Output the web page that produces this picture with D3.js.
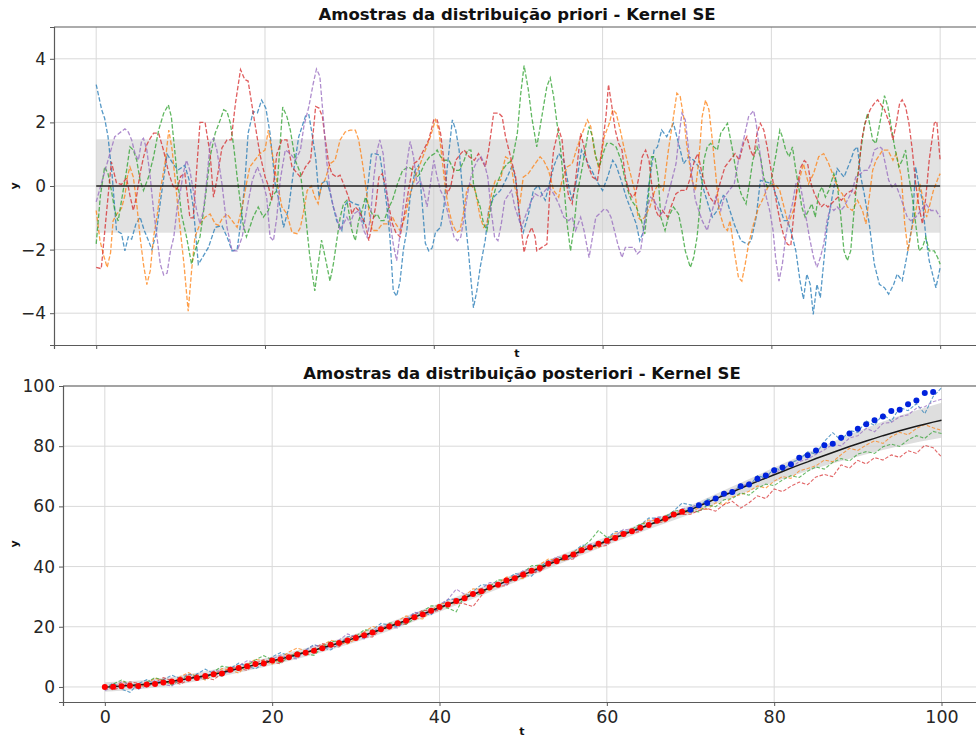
<!DOCTYPE html>
<html>
<head>
<meta charset="utf-8">
<script src="https://cdn.jsdelivr.net/npm/d3@7"></script>
<style>
  html, body { margin: 0; padding: 0; background: #fff; }
  svg { display: block; font-family: "DejaVu Sans", sans-serif; }
</style>
</head>
<body>
<svg id="chart" width="976" height="740"></svg>
<script>
// ---------- Prior samples (t, y) : squared-exponential kernel, zero mean ----------
const priorBlue = [[0,3.19],[0.65,2.4],[1,2.13],[1.4,1.55],[1.9,0.3],[2.4,-1.4],[3,-1.5],[3.4,-2.04],[3.8,-1.6],[4.2,-1.67],[4.7,-1.2],[5.2,-0.98],[5.7,-1.4],[6.2,-1.72],[6.6,-2.0],[7.1,-1.5],[7.6,-0.5],[8.4,1.0],[9.1,0.7],[9.7,0.5],[10.5,0.65],[11.0,0.2],[11.5,-0.66],[12.1,-2.46],[12.7,-2.2],[13.3,-1.93],[14.1,-1.3],[14.9,-1.25],[15.5,-1.6],[16.1,-2.04],[16.7,-2.0],[17.2,-1.0],[17.6,0.07],[18,1.66],[18.6,2.34],[19.1,2.3],[19.6,2.7],[20.1,2.45],[20.6,1.66],[21.2,0.07],[21.6,-0.4],[22.2,-1.3],[22.8,-0.7],[23.4,0.5],[24,1.55],[24.8,2.2],[25.2,2.24],[25.6,1.6],[26,0.9],[26.4,-0.35],[26.8,0.1],[27.3,0.18],[27.7,-0.2],[28.1,-0.66],[28.5,-1.1],[29.1,-1.4],[29.5,-0.6],[29.9,-0.45],[30.5,-0.55],[31.1,-0.6],[31.7,-1.2],[32.1,-0.2],[32.6,1.0],[33,1.02],[33.6,0.97],[34,0.3],[34.4,-0.55],[34.8,-1.6],[35.2,-3.3],[35.6,-3.46],[36,-3.0],[36.4,-2.0],[36.8,-1.4],[37.2,-0.35],[37.8,0.5],[38.2,0.65],[38.6,-0.45],[39,-1.8],[39.4,-2.04],[39.8,-1.95],[40.2,-1.46],[40.8,-1.3],[41.2,-0.66],[41.6,0.6],[42.2,2.08],[42.6,1.76],[43,1.13],[43.5,-0.45],[44.1,-2.04],[44.7,-3.83],[45.1,-3.3],[45.5,-2.56],[46.1,-1.7],[46.5,-0.77],[47.1,-0.35],[47.9,-0.14],[48.7,0.28],[49.3,0.65],[49.7,0.2],[50.2,-1.1],[50.6,-1.46],[51.2,-0.9],[51.8,-0.14],[52.4,0.02],[52.8,-0.25],[53.2,-0.45],[53.7,0.07],[54.2,0.6],[54.8,1.02],[55.4,0.8],[56,-0.03],[56.4,-0.45],[57,0.28],[57.5,1.13],[58.1,0.8],[58.9,0.39],[59.5,0.07],[60,-0.14],[60.6,0.28],[61.2,0.81],[61.6,0.65],[62.2,0.18],[62.8,-0.35],[63.4,-0.77],[64,-1.2],[64.4,-1.72],[64.8,-1.46],[65.2,-0.66],[65.5,0.07],[66.1,1.13],[66.5,1.23],[67,1.76],[67.6,1.55],[68,1.76],[68.4,1.97],[68.8,1.55],[69.2,1.13],[69.6,0.7],[70.2,0.92],[70.8,0.81],[71.4,0.6],[72,-0.14],[72.6,-0.66],[73,-0.98],[73.6,-0.77],[74.3,-0.3],[74.6,-0.35],[75,-0.7],[75.6,-1.2],[76.4,-1.72],[77.2,-1.83],[77.6,-1.72],[78.2,-0.98],[78.7,0.18],[79.3,0.13],[80.1,0.07],[80.9,-0.56],[81.5,-1.09],[81.9,-1.09],[82.3,-1.4],[82.9,-2.04],[83.4,-2.99],[83.8,-3.56],[84.2,-2.77],[84.6,-3.09],[84.96,-4.04],[85.4,-3.09],[85.8,-3.51],[86.6,-1.3],[87.2,-0.35],[87.8,0.55],[88.6,0.28],[89.4,0.81],[89.8,1.13],[90.2,1.23],[90.6,0.28],[91,-0.24],[91.6,-1.19],[92.2,-2.46],[92.8,-3.09],[93.4,-3.2],[93.9,-3.4],[94.5,-3.09],[94.9,-2.77],[95.5,-2.98],[96.1,-2.14],[96.7,-1.19],[97.1,0.6],[97.5,-0.03],[97.9,-0.45],[98.3,-1.6],[98.7,-2.35],[99.5,-3.2],[100,-2.56]];

const priorOrange = [[0,-0.77],[0.45,-1.72],[0.9,-2.2],[1.3,-2.56],[1.7,-2.1],[2,-1.1],[2.4,-0.9],[3,-0.7],[3.4,-0.3],[3.7,0.3],[4,0.6],[4.4,0.28],[4.8,-0.56],[5.2,-1.6],[5.6,-2.46],[6,-3.1],[6.4,-2.67],[6.8,-1.6],[7.2,-0.98],[7.6,-0.14],[8.2,0.81],[8.6,1.76],[9,1.13],[9.4,0.07],[9.8,-0.98],[10.4,-2.46],[10.9,-3.94],[11.3,-2.67],[11.7,-1.6],[12.3,-1.19],[12.9,-0.98],[13.5,-0.88],[14.1,-1.19],[14.5,-1.24],[14.9,-1.04],[15.5,-0.88],[16.1,-1.09],[16.7,-1.3],[17.3,-0.66],[17.8,0.07],[18.2,0.6],[18.8,0.81],[19.4,1.02],[20,1.13],[20.4,1.76],[20.8,1.13],[21.4,0.18],[22,-0.66],[22.6,-0.88],[23.2,-1.46],[23.8,-1.5],[24.2,-1.3],[24.6,-0.77],[25,-0.14],[25.5,0],[25.9,-0.35],[26.3,-0.56],[26.7,0.07],[27.1,0.18],[27.7,0.7],[28.3,0.81],[28.9,1.45],[29.5,1.7],[30.1,1.76],[30.7,1.76],[31.1,1.45],[31.5,0.81],[31.9,0.07],[32.3,-0.77],[32.7,-1.4],[33.3,-1.4],[33.9,-1.19],[34.5,-1.19],[35.1,-0.98],[35.5,-1.19],[36,-1.4],[36.6,-0.98],[37.2,-0.24],[37.8,0.28],[38.4,0.7],[39,1.13],[39.6,1.55],[40.2,2.08],[40.6,1.76],[41,0.81],[41.4,-0.14],[41.8,-0.77],[42.2,-1.19],[42.7,-1.46],[43.1,-1.4],[43.5,-0.88],[43.9,-0.14],[44.3,0.07],[44.9,-0.14],[45.5,-0.98],[45.9,-1.3],[46.3,-1.19],[46.9,-0.14],[47.3,0.18],[47.9,0.18],[48.5,0.92],[49.1,0.81],[49.5,0.07],[49.9,-0.35],[50.2,-0.56],[50.6,0.28],[51.2,0.39],[52,0.7],[52.6,0.92],[53,0.81],[53.6,0.49],[54.2,-0.14],[54.8,-0.35],[55.2,0.18],[55.8,0.6],[56.4,0.7],[57,1.23],[57.6,1.66],[58.2,2.08],[58.6,1.87],[59,1.13],[59.6,0.49],[60.2,1.55],[60.8,1.97],[61.2,2.4],[61.6,2.29],[62,1.87],[62.6,1.13],[63.2,0.49],[63.8,-0.14],[64.2,-0.98],[64.6,-1.09],[65,-0.98],[65.6,-0.66],[66.2,-0.14],[66.6,0.07],[67.2,-0.14],[67.8,1.13],[68.4,2.18],[68.8,2.92],[69.2,2.81],[69.6,2.18],[70,1.23],[70.6,0.18],[71,-0.14],[71.4,0.81],[71.8,2.18],[72.2,2.7],[72.6,2.4],[73,1.45],[73.4,0.39],[73.8,-0.77],[74.4,-1.3],[74.8,-1.4],[75.1,-1.09],[75.6,-2.04],[76.1,-2.88],[76.5,-2.99],[76.9,-2.46],[77.3,-1.83],[77.9,-1.19],[78.5,-0.66],[78.9,-0.46],[79.6,-0.03],[80.4,0.07],[81,-0.14],[81.6,-0.77],[82,-1.19],[82.6,-0.77],[83.2,0.07],[83.8,0.7],[84.4,0.07],[85,0.39],[85.6,0.92],[86.2,1.02],[86.8,0.7],[87.4,0.28],[88,-0.14],[88.4,-0.24],[89,-0.66],[89.6,-0.77],[90.2,-0.45],[90.8,-0.77],[91.2,-1.19],[91.6,-0.35],[92,0.49],[92.4,0.81],[93.2,1.13],[93.8,1.13],[94.4,0.81],[94.8,1.02],[95.4,0.28],[95.8,-1.19],[96.2,-2.04],[96.6,-1.4],[97.2,-0.66],[97.6,0.07],[98,-0.45],[98.4,-0.98],[98.8,-0.56],[99.2,-0.14],[99.8,0.28],[100,0.39]];

const priorGreen = [[0,-1.82],[0.5,-0.3],[1,0.6],[1.4,0.39],[1.8,-0.14],[2.2,-0.77],[2.6,-1.1],[3.2,-0.14],[3.6,0.49],[4,1.23],[4.4,1.13],[4.8,0.81],[5.2,0.18],[5.6,-0.14],[6.2,0.28],[6.8,0.92],[7.4,1.76],[8,2.29],[8.55,2.55],[8.9,2.18],[9.3,1.13],[9.7,0.07],[10.1,-0.88],[10.7,-1.6],[11.3,-2.46],[11.7,-2.04],[12.3,-1.6],[12.9,-0.45],[13.5,0.92],[14.1,1.66],[14.7,2.08],[15.1,2.4],[15.5,2.34],[15.9,1.97],[16.3,1.23],[16.7,0.28],[17.1,-0.56],[17.4,-1.19],[17.8,-1.6],[18.2,-1.3],[18.6,-0.98],[19.2,-0.66],[19.8,-0.98],[20.4,-0.77],[20.8,-0.35],[21.4,-0.14],[22.1,2.48],[22.6,2.18],[23,1.76],[23.6,0.8],[24.2,0.4],[24.8,-0.9],[25.3,-2.2],[25.9,-3.3],[26.3,-2.46],[26.7,-1.7],[27.1,-2.2],[27.7,-2.99],[28.1,-2.46],[28.5,-1.72],[28.9,-1.0],[29.3,-0.56],[29.7,-0.45],[30.3,-1.4],[30.7,-1.72],[31.1,-1.09],[31.5,-0.77],[31.9,-0.35],[32.5,-0.77],[32.9,-0.98],[33.3,-0.88],[33.7,-1.09],[34.1,-1.09],[34.7,-0.66],[35.1,-0.45],[35.7,0.07],[36.3,0.49],[37,0.6],[37.6,0.49],[38,0.28],[38.4,0.39],[38.9,0.7],[39.5,0.92],[40.1,1.02],[40.4,1.13],[40.8,0.92],[41.2,0.81],[41.8,0.81],[42.4,0.49],[43,0.49],[43.6,0.81],[44,1.13],[44.4,1.13],[44.7,0.07],[45.1,-0.35],[45.5,-0.66],[45.9,-1.19],[46.3,-1.4],[46.9,-0.45],[47.5,0.07],[48.1,0.49],[48.7,0.7],[49.3,0.81],[49.9,1.66],[50.3,2.9],[50.7,3.79],[51.2,3.03],[51.6,2.18],[52.2,1.23],[52.8,2.18],[53.4,3.13],[53.8,3.4],[54.2,2.81],[54.6,1.97],[55,1.23],[55.4,0.07],[55.8,-1.19],[56.2,-2.04],[56.6,-1.3],[57,-0.24],[57.6,0.6],[58,1.23],[58.4,1.87],[58.8,1.55],[59.2,0.92],[59.6,0.6],[60.2,1.13],[60.5,1.34],[61,1.34],[61.6,1.23],[62.2,0.81],[62.6,0.28],[63,-0.14],[63.4,-0.45],[64,-0.66],[64.6,-1.09],[65,-1.51],[65.4,-0.45],[65.8,0.92],[66.2,0.92],[66.6,0.24],[66.9,-0.98],[67.4,-1.4],[67.8,-0.98],[68.4,-0.66],[69,-0.88],[69.4,-1.4],[69.8,-2.04],[70.4,-2.56],[70.8,-2.24],[71.2,-1.6],[71.6,-0.45],[72,0.81],[72.4,1.23],[72.8,1.34],[73.2,1.23],[73.6,1.13],[74,1.66],[74.8,1.97],[75.4,1.13],[76,0.18],[76.4,-0.24],[77,-0.56],[77.4,0.07],[77.8,0.81],[78.3,1.23],[78.7,0.92],[79.1,0.28],[79.5,-0.03],[79.9,0.07],[80.5,0.92],[81,1.76],[81.3,1.55],[81.7,1.13],[82.1,0.92],[82.5,1.23],[82.9,0.49],[83.3,-0.14],[83.6,-0.66],[84,-0.98],[84.4,-0.77],[84.8,-0.56],[85.2,-0.98],[85.6,-0.24],[86,-0.03],[86.4,-0.35],[86.8,-0.14],[87.4,0.39],[87.8,0.07],[88.2,-0.88],[88.6,-2.04],[89,-2.35],[89.4,-2.04],[89.8,-0.77],[90.2,0.28],[90.6,1.13],[91,1.87],[91.4,2.29],[92,1.45],[92.4,1.34],[93,2.18],[93.4,2.84],[93.8,2.5],[94.2,1.87],[94.6,1.23],[95.1,0.6],[95.5,0.81],[95.9,1.13],[96.3,0.28],[96.7,-0.35],[97.1,-1.19],[97.5,-2.04],[97.9,-1.93],[98.3,-1.61],[98.7,-2.04],[99.3,-2.04],[99.7,-2.25],[100,-2.46]];

const priorRed = [[0,-2.56],[0.6,-2.6],[1.2,-0.9],[1.8,0.76],[2.4,0.1],[3,0.05],[3.6,0.25],[4,-0.3],[4.4,-0.77],[4.8,-0.3],[5.2,0.4],[5.6,0.9],[6,1.3],[6.4,1.5],[6.8,1.66],[7.4,1.66],[8,1.1],[8.6,0.4],[9.1,0],[9.6,-0.1],[10,0.3],[10.5,0.4],[11.1,-1.0],[11.5,-1.0],[11.9,0.5],[12.3,2.0],[12.9,2.0],[13.5,1.0],[13.9,-0.35],[14.3,0.2],[14.9,1.2],[15.5,1.45],[16,1.45],[16.5,2.6],[17.1,3.66],[17.6,3.35],[18,3.3],[18.6,2.3],[19.4,1.0],[20,0.3],[20.4,0],[20.8,-0.45],[21.4,1.0],[22,1.45],[22.6,1.45],[23.2,0.6],[23.8,0.4],[24.2,0.28],[24.8,0.6],[25.4,0.81],[26,2.5],[26.4,2.45],[26.8,2.18],[27.1,1.55],[27.5,0.8],[27.9,0.39],[28.5,0.28],[28.9,0.34],[29.3,0.07],[29.9,-0.35],[30.3,-0.88],[30.7,-0.66],[31.1,-0.77],[31.5,-0.98],[31.9,-1.19],[32.3,-1.72],[32.7,-1.19],[33.1,-0.66],[33.5,0.28],[33.9,0.39],[34.3,-0.03],[34.7,-0.66],[35.1,-1.19],[35.5,-1.46],[36,-1.6],[36.6,-0.77],[37,-0.14],[37.6,0.7],[38.2,0.81],[38.8,1.13],[39.4,1.45],[40,2.08],[40.4,2.08],[40.8,1.66],[41.2,0.81],[41.6,-0.24],[42,-0.03],[42.6,0.81],[43.2,1.02],[43.6,1.13],[44.2,0.92],[44.8,0.81],[45.3,1.02],[45.7,0.81],[46.1,0.6],[46.5,1.13],[47.1,2.29],[47.7,2.29],[48.1,2.18],[48.5,1.55],[48.9,1.13],[49.3,0.7],[49.7,0.28],[50.1,-0.77],[50.7,-2.09],[51.1,-1.6],[51.6,-1.3],[52,-1.6],[52.2,-2.04],[52.8,-1.93],[53.4,-1.83],[53.8,0.07],[54.2,1.13],[54.8,1.8],[55.2,1.45],[55.6,0.28],[56,-0.35],[56.4,-0.56],[56.8,0.18],[57.4,1.66],[57.8,1.23],[58.2,0.7],[58.8,0.28],[59.4,0.18],[60,1.34],[60.4,2.18],[60.7,3.19],[61.1,2.5],[61.5,1.76],[61.9,1.34],[62.3,1.13],[62.7,0.28],[63.1,-0.14],[63.5,-0.35],[63.9,-0.24],[64.3,0.28],[64.7,0.92],[65.1,1.13],[65.5,0.81],[65.9,-0.14],[66.3,-0.77],[66.7,-0.98],[67.1,-0.77],[67.7,-0.98],[68.1,-0.66],[68.7,-0.24],[69.3,-0.14],[69.9,-0.14],[70.3,0.18],[70.9,0.81],[71.3,1.02],[71.7,0.49],[72.1,0.07],[72.7,-0.35],[73.3,-0.56],[73.9,0.07],[74.5,0.6],[75.1,0.81],[75.7,1.02],[76.2,0.81],[76.7,1.34],[77.1,1.55],[77.5,1.13],[77.9,0.92],[78.3,1.66],[78.7,1.97],[79.1,1.76],[79.5,1.23],[79.9,0.6],[80.3,-0.03],[80.7,-0.66],[81.1,-1.19],[81.5,-1.6],[81.9,-1.83],[82.3,-1.88],[82.7,-0.77],[83.1,0.07],[83.5,0.6],[83.9,0.8],[84.3,0.7],[84.7,0.07],[85.1,-0.24],[85.5,-0.45],[85.9,-0.66],[86.3,-0.56],[86.7,-0.66],[87.1,-0.56],[87.5,-0.45],[87.9,-0.35],[88.3,-0.45],[88.9,-0.24],[89.5,-0.14],[89.9,-0.24],[90.3,0.39],[90.7,1.45],[91.1,1.97],[91.7,2.4],[92.2,2.6],[92.6,2.71],[93,2.55],[93.4,2.4],[94,1.97],[94.4,1.45],[94.8,1.97],[95.2,2.6],[95.5,2.71],[95.9,2.5],[96.3,1.97],[96.7,1.13],[97.1,0.07],[97.5,-0.66],[97.9,-1.19],[98.3,-0.35],[98.7,0.81],[99.3,1.97],[99.6,2.03],[100,0.8]];

const priorPurple = [[0,-0.5],[0.6,0.07],[1.4,0.81],[2.2,1.55],[3.4,1.8],[3.8,1.7],[4.2,1.45],[4.6,1.02],[5.0,0.81],[5.4,1.45],[5.6,1.5],[6,1.13],[6.4,0.28],[6.8,-0.77],[7.2,-1.6],[7.6,-2.46],[8,-2.8],[8.4,-2.74],[8.8,-2.04],[9.2,-1.6],[9.6,-0.66],[10,-0.14],[10.3,0.39],[10.7,0.81],[11.1,0.49],[11.5,-0.14],[11.9,-0.77],[12.3,-1.19],[12.7,-0.77],[13.1,0.18],[13.5,1.34],[13.9,1.5],[14.3,1.13],[14.9,0.07],[15.5,-1.3],[16.1,-2.04],[16.7,-2.04],[17.3,-1.6],[17.9,-0.66],[18.5,0.18],[19.1,0.6],[19.7,0.18],[20.2,-0.35],[20.6,-1.6],[21,-1.72],[21.4,-0.98],[21.8,0.18],[22.4,1.13],[23,1.02],[23.6,0.81],[24.2,1.13],[24.6,1.87],[25.2,2.5],[25.7,3.2],[26.1,3.68],[26.5,3.45],[26.9,2.18],[27.3,0.81],[27.7,-0.14],[28.1,-0.66],[28.5,-0.98],[28.9,-1.4],[29.3,-1.19],[29.7,-0.98],[30.1,-1.19],[30.5,-0.88],[31.1,-0.77],[31.7,-1.4],[32.1,-1.61],[32.5,-0.98],[32.9,0.28],[33.3,1.13],[33.6,1.45],[34,1.02],[34.4,-0.14],[34.8,-1.09],[35.2,-1.83],[35.6,-2.35],[36,-1.51],[36.4,-0.56],[36.8,0.7],[37.2,1.4],[37.6,0.92],[38,0.07],[38.4,0.18],[38.8,-0.14],[39.2,-0.66],[39.6,0.07],[40,0.81],[40.4,0.28],[40.8,-0.14],[41.2,-0.35],[41.6,-0.77],[42,-1.19],[42.4,-1.6],[42.8,-1.72],[43.2,-1.6],[43.6,-0.98],[44,-0.24],[44.4,0.28],[44.8,0.6],[45.2,0.81],[45.6,0.92],[46,0.7],[46.4,0.28],[46.8,-0.77],[47.2,-1.6],[47.6,-1.72],[48,-1.19],[48.4,-0.45],[49.2,-0.14],[49.6,-0.66],[50,-0.98],[50.4,-1.3],[50.8,-0.98],[51.4,-0.56],[52,-0.24],[52.6,-0.35],[53.2,-0.14],[53.6,-0.03],[54.2,-0.24],[54.8,-0.56],[55.4,-0.98],[56,-1.09],[56.4,-0.98],[56.8,-1.4],[57.4,-0.98],[57.8,-1.4],[58.4,-2.25],[58.8,-1.61],[59.2,-0.98],[59.6,-0.88],[60.2,-0.72],[60.6,-0.77],[61,-0.98],[61.4,-1.4],[61.8,-1.83],[62.3,-2.25],[62.7,-1.93],[63.3,-1.93],[63.7,-1.93],[64.1,-2.14],[64.5,-2.04],[64.9,-1.3],[65.3,-0.66],[65.7,-0.35],[66.1,-0.45],[66.5,-0.66],[66.9,-0.88],[67.3,-0.77],[67.7,-0.35],[68.1,0.07],[68.7,0.7],[69.1,1.66],[69.4,2.29],[69.8,2.08],[70.2,1.13],[70.6,0.28],[71,-0.45],[71.4,-0.77],[71.8,-1.09],[72.4,-1.4],[72.8,-0.98],[73.4,-0.35],[74,-0.77],[74.4,-0.35],[75,-0.14],[75.6,0.07],[76.1,0.81],[76.7,1.45],[77.3,2.18],[77.9,2.37],[78.2,1.97],[78.6,1.13],[79,0.28],[79.4,-0.35],[79.8,-0.77],[80.2,-1.4],[80.5,-2.25],[80.9,-2.99],[81.3,-2.46],[81.7,-1.6],[82.1,-0.98],[82.5,-0.56],[82.9,0.07],[83.3,0.18],[83.7,-0.35],[84.1,-0.98],[84.5,-1.6],[85,-2.25],[85.4,-2.56],[85.8,-2.25],[86.2,-1.83],[86.6,-1.09],[87,-0.66],[87.4,-0.77],[87.8,-0.66],[88.2,-0.77],[88.6,-0.66],[89,-0.45],[89.6,-0.14],[90,0.28],[90.6,0.39],[91,0.49],[91.4,0.49],[91.8,0.7],[92.2,1.13],[92.8,1.23],[93.1,1.18],[93.5,0.7],[93.9,0.18],[94.3,-0.03],[94.7,0.07],[95.3,-0.35],[95.7,-0.66],[96.1,-0.98],[96.5,-1.09],[97.1,-0.98],[97.7,-0.77],[98.3,-0.56],[98.9,-0.77],[99.5,-0.77],[100,-0.98]];

// prior mean (zero) and its band half-width
const priorMean = [[0, 0], [100, 0]];
const priorBandHalfWidth = 1.47;

// ---------- Posterior: t = 0..100 in steps of 1 ----------
const postT = d3.range(0, 101);

const postMean = [0,0.1,0.3,0.5,0.7,0.9,1.2,1.6,1.9,2.3,
  2.8,3.2,3.7,4.2,4.8,5.5,6.1,6.7,7.4,8.0,
  8.7,9.3,10.0,10.7,11.5,12.2,13.0,13.8,14.6,15.5,
  16.3,17.2,18.1,19.1,20.1,21.1,22.1,23.2,24.2,25.3,
  26.4,27.4,28.5,29.6,30.7,31.8,32.9,34.0,35.1,36.2,
  37.3,38.4,39.6,40.7,41.8,43.0,44.1,45.2,46.3,47.4,
  48.5,49.6,50.7,51.7,52.8,53.8,54.9,55.9,56.9,57.9,
  58.9,60.1,61.3,62.5,63.7,64.8,66.0,67.2,68.3,69.4,
  70.5,71.6,72.7,73.8,74.8,75.9,76.9,77.9,78.9,79.9,
  80.8,81.7,82.6,83.5,84.3,85.1,85.9,86.6,87.3,88.0,
  88.6];

// posterior band half-width, every 5 units of t
const postBandT = [0,5,10,15,20,25,30,35,40,45,50,55,60,65,70,75,80,85,90,95,100];
const postBandHalfWidth = [1.6,1.4,1.4,1.4,1.4,1.4,1.4,1.4,1.4,1.4,1.4,1.4,1.4,1.4,1.5,1.8,2.4,3.2,4.2,5.0,5.8];

const postBlue = [-0.5,1.3,-0.7,-1.8,1.1,2.4,0.9,2.4,3.9,2.8,
  2.0,4.3,5.9,4.5,3.6,6.1,7.9,6.9,6.0,7.8,
  10.0,11.4,10.4,9.8,12.3,14.1,13.1,12.3,14.3,16.7,
  16.9,16.4,19.0,21.1,20.6,20.0,21.9,24.6,24.5,24.0,
  26.6,29.0,29.2,29.0,31.7,34.0,33.7,33.3,35.5,37.7,
  37.1,36.8,39.7,42.0,42.3,42.1,44.7,47.1,47.2,47.0,
  49.3,51.6,51.8,51.5,53.8,56.1,56.1,56.3,58.5,61.1,
  60.5,59.8,62.4,61.9,64.8,63.9,67.5,66.6,70.2,69.4,
  72.8,71.9,74.6,75.5,78.1,77.4,81.6,84.5,81.9,85.2,
  84.6,88.4,86.9,90.7,88.2,92.9,91.8,94.1,90.8,96.5,
  99.4];

const postOrange = [0.3,-0.7,1.8,1.1,-0.5,1.1,2.9,2.0,1.0,3.4,
  4.8,3.5,2.3,4.0,6.1,5.6,4.6,7.3,9.2,8.7,
  7.6,9.5,11.6,12.9,12.0,11.4,13.9,15.5,14.8,14.3,
  16.0,18.3,20.1,19.5,19.2,21.9,23.6,22.9,22.6,25.4,
  27.6,27.9,27.5,30.3,32.6,32.4,32.1,34.3,36.5,36.4,
  36.0,38.3,40.7,42.5,42.2,42.0,44.7,46.5,46.4,46.2,
  48.8,51.1,51.5,51.2,53.7,55.5,55.1,55.1,57.3,58.4,
  57.8,59.6,59.0,61.2,60.6,63.1,63.9,65.0,66.8,66.1,
  68.4,69.9,69.3,71.8,72.6,73.5,75.4,74.8,77.2,79.3,
  78.6,80.4,81.8,80.9,83.2,84.6,83.8,85.9,87.2,86.1,
  85.3];

const postGreen = [-0.8,1.0,2.3,0.9,-0.3,1.6,3.1,2.2,0.6,2.2,
  4.2,3.7,2.6,5.0,6.9,6.4,5.5,7.1,9.0,10.4,
  9.0,8.1,9.8,11.7,11.0,10.5,13.2,15.1,15.2,14.7,
  16.8,19.0,18.8,18.7,21.2,21.3,20.8,22.7,25.1,27.0,
  26.8,26.2,25.0,30.4,30.8,30.8,33.4,35.6,35.4,35.3,
  37.9,40.3,40.4,40.4,42.8,43.2,43.2,46.3,48.6,52.0,
  49.7,49.9,50.1,52.4,54.2,54.3,54.5,56.7,58.4,58.8,
  58.6,58.2,60.4,59.9,62.2,62.6,64.5,63.7,66.0,67.4,
  66.9,68.8,70.2,69.6,71.7,73.1,72.4,74.6,75.9,75.1,
  77.4,78.2,77.6,79.8,80.7,79.9,82.1,83.5,82.6,84.9,
  84.2];

const postRed = [0.4,-1.0,0.0,1.7,1.2,0.0,1.5,3.1,2.1,0.9,
  2.4,4.1,3.1,2.4,4.5,6.5,6.2,5.5,7.8,9.1,
  8.2,7.7,10.2,11.6,10.8,12.7,14.4,13.6,13.3,15.8,
  17.3,16.6,16.6,19.3,20.9,20.7,20.9,23.8,25.5,25.2,
  25.4,27.8,28.0,27.6,26.7,30.3,33.4,33.4,33.7,36.4,
  38.3,38.0,38.3,40.8,42.7,42.3,42.5,44.9,46.9,46.6,
  47.0,49.8,51.4,51.1,51.7,54.2,54.6,54.9,57.1,57.3,
  57.4,58.6,59.3,58.4,60.6,61.7,59.4,61.2,63.5,62.6,
  65.8,64.9,66.7,68.1,67.2,69.8,70.6,69.9,73.8,72.7,
  75.3,74.1,76.2,75.4,77.1,76.3,78.5,77.6,80.3,79.5,
  76.4];

const postPurple = [-1.2,-0.1,1.7,0.8,-0.8,0.5,2.2,0.9,0.3,2.8,
  4.4,3.1,2.7,5.4,5.2,4.7,7.0,8.7,8.2,7.4,
  9.2,10.6,9.7,9.3,12.1,13.8,13.4,12.9,15.6,17.6,
  16.6,16.0,18.2,20.3,19.9,19.6,22.5,24.8,24.4,24.3,
  27.3,29.1,32.5,30.8,30.3,32.6,34.7,34.5,34.0,36.5,
  38.7,39.0,38.7,41.2,43.3,42.8,42.7,45.4,47.5,47.5,
  47.5,50.2,52.4,52.0,52.0,54.7,56.5,56.6,57.1,59.3,
  59.5,61.0,60.8,62.9,63.5,65.6,65.9,68.2,68.0,70.1,
  70.9,72.6,72.8,74.9,75.7,77.3,78.8,80.6,80.1,82.7,
  83.5,85.9,84.8,87.6,87.9,89.8,90.4,92.6,93.1,94.8,
  95.6];

// observations used for conditioning (t = 0..69) and held-out points (t = 70..99)
const obsTrainT = d3.range(0, 70);
const obsTrain = [0.0,0.1,0.2,0.4,0.3,0.8,1.0,1.5,1.8,2.3,
  2.8,3.0,3.6,4.2,4.5,5.7,6.3,6.9,7.6,7.8,
  8.8,9.2,9.9,10.8,11.4,12.0,12.9,14.0,14.6,15.4,
  16.3,17.2,18.1,19.2,20.1,21.2,22.0,23.2,24.1,25.3,
  26.6,27.4,28.6,29.5,30.9,31.8,33.1,34.0,35.4,36.1,
  37.3,38.6,39.5,40.9,41.8,43.1,44.0,45.4,46.3,47.6,
  48.6,49.5,50.8,51.7,52.9,53.8,55.2,56.0,57.3,58.2];
const obsTestT = d3.range(70, 100);
const obsTest = [58.9,60.4,61.1,62.6,64.2,64.8,66.7,67.3,69.2,70.3,
  72.0,72.9,74.0,76.2,77.0,78.6,80.3,80.8,82.8,84.2,
  85.8,87.3,88.6,89.9,91.7,92.1,93.9,95.2,97.7,98.0];

// ---------- styling ----------
const sampleColors = ["#1f77b4", "#ff7f0e", "#2ca02c", "#d62728", "#9467bd"];
const xTickValues = [0, 20, 40, 60, 80, 100];
const priorYTicks = [-4, -2, 0, 2, 4];
const postYTicks = [0, 20, 40, 60, 80, 100];

const svg = d3.select("#chart");
const FONT = "DejaVu Sans, sans-serif";

function drawPanel(cfg) {
  const { left, right, top, bottom, xDomain, yDomain, yTicks, showXLabels, title, clipId } = cfg;
  const x = d3.scaleLinear().domain(xDomain).range([left, right]);
  const y = d3.scaleLinear().domain(yDomain).range([bottom, top]);
  const g = svg.append("g");

  g.append("clipPath").attr("id", clipId)
    .append("rect").attr("x", left).attr("y", top)
    .attr("width", right - left).attr("height", bottom - top);

  // grid
  const grid = g.append("g").attr("stroke", "#d9d9d9").attr("stroke-width", 1);
  grid.selectAll("line.vx").data(xTickValues).join("line")
    .attr("x1", d => x(d)).attr("x2", d => x(d))
    .attr("y1", top).attr("y2", bottom);
  grid.selectAll("line.hy").data(yTicks).join("line")
    .attr("x1", left).attr("x2", right)
    .attr("y1", d => y(d)).attr("y2", d => y(d));

  const plot = g.append("g").attr("clip-path", `url(#${clipId})`);

  // x axis (ticks at the bottom spine)
  const xAxis = d3.axisBottom(x).tickValues(xTickValues).tickSize(4).tickPadding(5)
    .tickFormat(showXLabels ? d3.format("d") : () => "");
  const xa = g.append("g").attr("transform", `translate(0,${bottom})`).call(xAxis);
  xa.select(".domain").attr("stroke", "#5a5a5a").attr("stroke-width", 1.2);
  xa.selectAll(".tick line").attr("stroke", "#5a5a5a");
  xa.selectAll("text").attr("font-family", FONT).attr("font-size", 17.5).attr("fill", "#262626");

  const yAxis = d3.axisLeft(y).tickValues(yTicks).tickSize(4).tickPadding(4)
    .tickFormat(d => d < 0 ? "\u2212" + Math.abs(d) : String(d));
  const ya = g.append("g").attr("transform", `translate(${left},0)`).call(yAxis);
  ya.select(".domain").attr("stroke", "#5a5a5a").attr("stroke-width", 1.2);
  ya.selectAll(".tick line").attr("stroke", "#5a5a5a");
  ya.selectAll("text").attr("font-family", FONT).attr("font-size", 17).attr("fill", "#262626");

  // top spine
  g.append("line").attr("x1", left).attr("x2", right).attr("y1", top).attr("y2", top)
    .attr("stroke", "#5a5a5a").attr("stroke-width", 1.2);

  // title
  g.append("text").attr("x", (left + right) / 2).attr("y", top - 7)
    .attr("text-anchor", "middle").attr("font-family", FONT)
    .attr("font-size", 16.5).attr("font-weight", "bold").attr("fill", "#111")
    .text(title);

  // axis labels
  g.append("text").attr("x", (left + right) / 2).attr("y", cfg.tLabelY)
    .attr("text-anchor", "middle").attr("font-family", FONT)
    .attr("font-size", 11).attr("font-weight", "bold").attr("fill", "#111").text("t");
  g.append("text").attr("transform", `translate(18,${(top + bottom) / 2}) rotate(-90)`)
    .attr("text-anchor", "middle").attr("font-family", FONT)
    .attr("font-size", 11).attr("font-weight", "bold").attr("fill", "#111").text("y");

  return { x, y, plot };
}

// ---------- panel 1: prior samples ----------
const p1 = drawPanel({
  left: 54, right: 980, top: 27, bottom: 345,
  xDomain: [-5, 104.72], yDomain: [-5, 5], yTicks: priorYTicks,
  showXLabels: false, title: "Amostras da distribuição priori - Kernel SE",
  clipId: "clip-prior", tLabelY: 357
});

p1.plot.append("path")
  .datum(priorMean)
  .attr("fill", "#cfcfcf").attr("fill-opacity", 0.6)
  .attr("d", d3.area().x(d => p1.x(d[0]))
    .y0(d => p1.y(d[1] - priorBandHalfWidth)).y1(d => p1.y(d[1] + priorBandHalfWidth)));

const priorLines = [priorBlue, priorOrange, priorGreen, priorRed, priorPurple];
const priorLine = d3.line().x(d => p1.x(d[0])).y(d => p1.y(d[1]));
priorLines.forEach((s, i) => {
  p1.plot.append("path").datum(s)
    .attr("fill", "none").attr("stroke", sampleColors[i])
    .attr("stroke-opacity", 0.75).attr("stroke-width", 1.3)
    .attr("stroke-dasharray", "4.5,2").attr("d", priorLine);
});

p1.plot.append("path").datum(priorMean)
  .attr("fill", "none").attr("stroke", "#222").attr("stroke-width", 1.5)
  .attr("d", priorLine);

// ---------- panel 2: posterior samples ----------
const p2 = drawPanel({
  left: 63, right: 981, top: 386, bottom: 702,
  xDomain: [-5, 104.72], yDomain: [-5, 100], yTicks: postYTicks,
  showXLabels: true, title: "Amostras da distribuição posteriori - Kernel SE",
  clipId: "clip-post", tLabelY: 735
});

p2.plot.append("path")
  .datum(postBandT.map((t, i) => [t, postMean[t], postBandHalfWidth[i]]))
  .attr("fill", "#c8c8c8").attr("fill-opacity", 0.6)
  .attr("d", d3.area().curve(d3.curveMonotoneX).x(d => p2.x(d[0]))
    .y0(d => p2.y(d[1] - d[2])).y1(d => p2.y(d[1] + d[2])));

const postLines = [postBlue, postOrange, postGreen, postRed, postPurple];
const postLine = d3.line().x((d, i) => p2.x(postT[i])).y(d => p2.y(d));
postLines.forEach((s, i) => {
  p2.plot.append("path").datum(s)
    .attr("fill", "none").attr("stroke", sampleColors[i])
    .attr("stroke-opacity", 0.7).attr("stroke-width", 1.1)
    .attr("stroke-dasharray", "3.5,1.8").attr("d", postLine);
});

p2.plot.append("path").datum(postMean)
  .attr("fill", "none").attr("stroke", "#1a1a1a").attr("stroke-width", 1.5)
  .attr("d", postLine);

p2.plot.append("g").selectAll("circle").data(obsTrain).join("circle")
  .attr("cx", (d, i) => p2.x(obsTrainT[i])).attr("cy", d => p2.y(d))
  .attr("r", 3).attr("fill", "#ff0000");

p2.plot.append("g").selectAll("circle").data(obsTest).join("circle")
  .attr("cx", (d, i) => p2.x(obsTestT[i])).attr("cy", d => p2.y(d))
  .attr("r", 3).attr("fill", "#0022dd");
</script>
</body>
</html>
